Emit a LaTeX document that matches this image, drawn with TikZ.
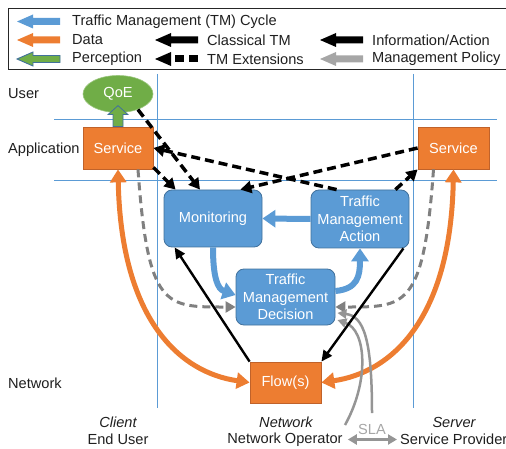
\documentclass[tikz,border=0pt]{standalone}
\usepackage{fontspec}
\setmainfont{Liberation Sans}
\usetikzlibrary{arrows.meta,shapes.geometric,calc}
\definecolor{tmblue}{HTML}{5B9BD5}
\definecolor{tmblueD}{HTML}{41719C}
\definecolor{tmorange}{HTML}{ED7D31}
\definecolor{tmorangeD}{HTML}{C0622A}
\definecolor{tmgreen}{HTML}{70AD47}
\definecolor{gridblue}{HTML}{5B9BD5}
\definecolor{pgray}{HTML}{A6A6A6}
\definecolor{dgray}{HTML}{808080}
\definecolor{mgray}{HTML}{959595}
\definecolor{txt}{HTML}{1F1F1F}
\tikzset{
  box/.style={draw=tmblueD, fill=tmblue, rounded corners=8pt, text=white, align=center,
    minimum width=98pt, minimum height=57pt, inner sep=0pt, line width=0.8pt},
  svc/.style={draw=tmorangeD, fill=tmorange, text=white, minimum width=70pt,
    minimum height=42pt, inner sep=0pt, line width=0.8pt},
  extarrow/.style={black, line width=3.5pt, dash pattern=on 9pt off 5pt,
    -{Triangle[length=11pt,width=12pt]}},
  infoarrow/.style={black, line width=2.4pt, -{Triangle[length=11pt,width=10pt]}},
  cyclearrow/.style={tmblue, line width=6pt, -{Triangle[length=13pt,width=17pt]}},
  dataarrow/.style={tmorange, line width=5pt,
    {Triangle[length=13pt,width=16pt]}-{Triangle[length=13pt,width=16pt]}},
  polarrow/.style={dgray, line width=3pt, dash pattern=on 8pt off 5pt,
    -{Triangle[length=10pt,width=11pt]}},
  mgmtarrow/.style={mgray, line width=2.5pt, -{Triangle[length=9pt,width=9pt]}},
  gridline/.style={gridblue, line width=0.7pt},
  lbl/.style={text=txt, inner sep=0pt},
  legarr/.pic={\path[pic actions] (0,0) -- (16,-7) -- (16,-3.5) -- (43,-3.5) -- (43,3.5) -- (16,3.5) -- (16,7) -- cycle;}
}
\begin{document}
\begin{tikzpicture}[x=1pt,y=-1pt,font=\fontsize{14.6}{17.5}\selectfont]
\useasboundingbox (0,0) rectangle (506,449);

% legend
\draw[line width=0.9pt, black!85] (506,8.5) -- (8.5,8.5) -- (8.5,69.5) -- (506,69.5);
\pic[fill=tmblue] at (17,21.5) {legarr};
\pic[fill=tmorange] at (17,40) {legarr};
\pic[fill=tmgreen, draw=tmblueD, line width=0.9pt] at (17,59) {legarr};
\pic[fill=black] at (155,40) {legarr};
\fill[black] (155,59) -- (171,52) -- (171,66) -- cycle;
\fill[black] (175,55.5) rectangle (184,62.5);
\fill[black] (189,55.5) rectangle (198,62.5);
\pic[fill=black] at (320,40) {legarr};
\pic[fill=pgray] at (320,59) {legarr};
\node[lbl, anchor=west] (l1) at (72,21.5) {Traffic Management (TM) Cycle};
\node[lbl, anchor=west] (l2) at (72,40) {Data};
\node[lbl, anchor=west] (l3) at (72,59) {Perception};
\node[lbl, anchor=west] (l4) at (207,40) {Classical TM};
\node[lbl, anchor=west] (l5) at (207,59) {TM Extensions};
\node[lbl, anchor=west] (l6) at (372,40) {Information/Action};
\node[lbl, anchor=west] (l7) at (372,59) {Management Policy};

% grid
\draw[gridline] (54,119.5) -- (497,119.5);
\draw[gridline] (54,180.5) -- (497,180.5);
\draw[gridline] (157.5,74) -- (157.5,408);
\draw[gridline] (413.5,74) -- (413.5,408);

% layer labels
\node[lbl, anchor=west] (uUser) at (8,94) {User};
\node[lbl, anchor=west] (uApp) at (8,150) {Application};
\node[lbl, anchor=west] (uNet) at (8,383) {Network};

% nodes
\node[ellipse, fill=tmgreen, draw=tmgreen!70!white, line width=0.6pt, text=white,
  minimum width=70pt, minimum height=37pt, inner sep=0pt] (qoe) at (118,94) {QoE};
\node[svc] (svcL) at (118,148) {Service};
\node[svc, minimum width=71pt] (svcR) at (453.5,148) {Service};
\node[box] (mon) at (213,218.5) {Monitoring};
\node[box, minimum height=58pt] (act) at (360,219) {Traffic\\Management\\Action};
\node[box, minimum width=99pt, minimum height=56pt] (dec) at (285.5,297) {Traffic\\Management\\Decision};
\node[svc, minimum width=71pt, minimum height=41pt] (flow) at (285.5,382.5) {Flow(s)};

% perception arrow
\begin{scope}[shift={(svcL.north)}]
\fill[tmgreen, draw=tmblueD, line width=0.8pt] (-5,0) -- (-5,-12) -- (-10,-12) -- (0,-21) -- (10,-12) -- (5,-12) -- (5,0) -- cycle;
\end{scope}

% bottom labels
\node[lbl, font=\fontsize{14.6}{17.5}\selectfont\itshape] (cl) at (118,422) {Client};
\node[lbl] (eu) at (118,439.5) {End User};
\node[lbl, font=\fontsize{14.6}{17.5}\selectfont\itshape] (nw) at (286,422) {Network};
\node[lbl] (no) at (285,439.5) {Network Operator};
\node[lbl, font=\fontsize{14.6}{17.5}\selectfont\itshape] (sv) at (454,422) {Server};
\node[lbl, anchor=west] (sp) at (400,439.5) {Service Provider};
\node[text=pgray, inner sep=0pt] (sla) at (372,429) {SLA};
\draw[mgray, line width=2.5pt, {Triangle[length=9pt,width=10pt]}-{Triangle[length=9pt,width=10pt]}]
  ([xshift=5pt]no.east) -- ([xshift=-3pt]sp.west);

% data
\draw[dataarrow] (svcL.south) .. controls +(3,150) and +(-70,-10) .. (flow.west);
\draw[dataarrow] (svcR.south) .. controls +(-3,150) and +(70,-10) .. (flow.east);

% policy dashed
\draw[polarrow] ([xshift=20pt]svcL.south) .. controls +(10,140) and +(-70,0) .. ([yshift=-10pt]dec.west);
\draw[polarrow] ([xshift=-20pt]svcR.south) .. controls +(-10,140) and +(70,0) .. ([yshift=-10pt]dec.east);

% management policy
\coordinate (m1) at (345,425);
\coordinate (m2) at (372,413);
\draw[mgmtarrow] (m1) .. controls (370,380) and (366,330) .. ([xshift=2pt,yshift=-23pt]dec.east);
\draw[mgmtarrow] (m2) .. controls (372,340) and (364,316) .. ([xshift=2pt,yshift=-16pt]dec.east);

% TM cycle
\draw[cyclearrow] (mon.south) .. controls +(0,30) and +(-18,-6) .. ([yshift=2pt]dec.west);
\draw[cyclearrow] ([yshift=6pt]dec.east) .. controls +(22,-2) and +(0,28) .. (act.south);
\draw[cyclearrow] (act.west) -- (mon.east);

% information / action
\draw[infoarrow] (flow.north west) -- ([xshift=11pt]mon.south west);
\draw[infoarrow] ([xshift=-6pt]act.south east) -- (flow.north east);

% TM extensions
\draw[extarrow] (qoe.-38) -- ([xshift=-13pt]mon.north);
\draw[extarrow] ([yshift=2pt]svcL.south east) -- ([xshift=12pt]mon.north west);
\draw[extarrow] ([xshift=26pt]act.north west) -- (svcL.east);
\draw[extarrow] (svcR.west) -- ([xshift=-22pt]mon.north east);
\draw[extarrow] ([xshift=-14pt]act.north east) -- (svcR.south west);
\end{tikzpicture}
\end{document}
